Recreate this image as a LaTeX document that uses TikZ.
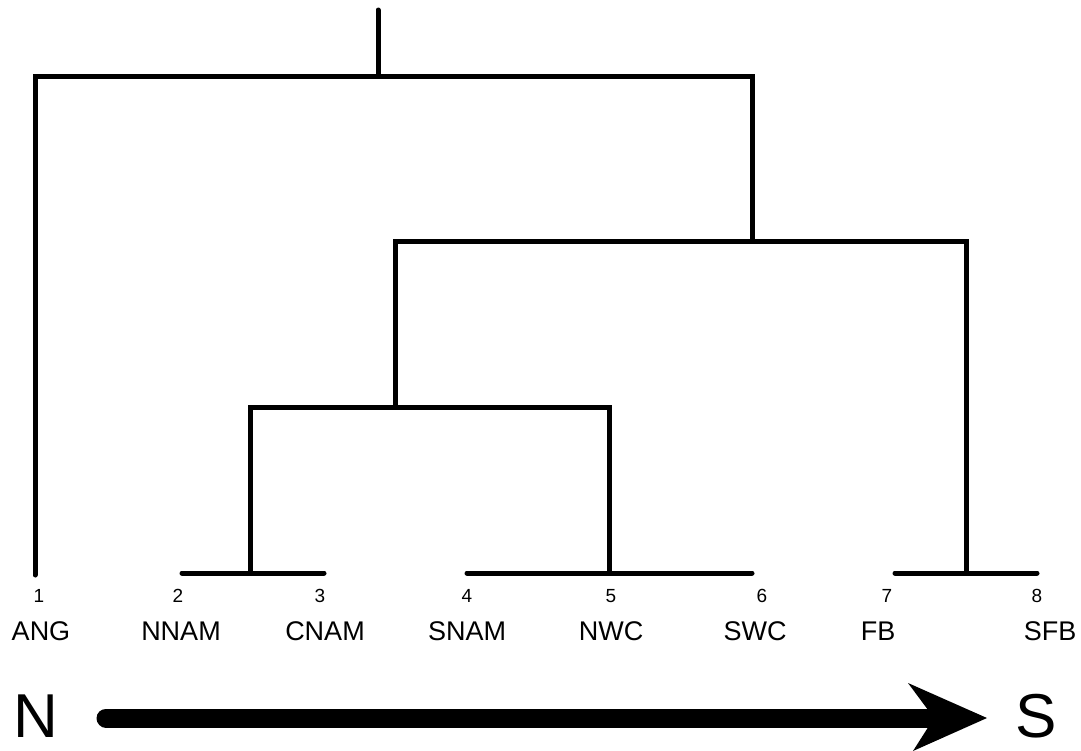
\documentclass[tikz,border=0pt]{standalone}
\usepackage{fontspec}
\setmainfont{Liberation Sans}
\begin{document}
\begin{tikzpicture}[x=1pt,y=-1pt,
  branch/.style={line width=5pt,line cap=round,line join=miter},
  num/.style={font=\fontsize{19}{19}\selectfont,inner sep=0pt},
  lab/.style={font=\fontsize{27}{27}\selectfont,inner sep=0pt},
  big/.style={font=\fontsize{62}{62}\selectfont,inner sep=0pt}]
\useasboundingbox (0,0) rectangle (1081,750);
% junction coordinates
\coordinate (top) at (378,10);
\coordinate (rA) at (378,76);
\coordinate (rL) at (35,76);
\coordinate (rR) at (752,76);
\coordinate (l1) at (35,575);
\coordinate (bA) at (752,241);
\coordinate (bL) at (395,241);
\coordinate (bR) at (966,241);
\coordinate (cA) at (395,407);
\coordinate (cL) at (250,407);
\coordinate (cR) at (609,407);
\coordinate (d23) at (250,573);
\coordinate (d456) at (609,573);
\coordinate (d78) at (966,573);
\coordinate (e2) at (182,573);
\coordinate (e3) at (324,573);
\coordinate (e4) at (467,573);
\coordinate (e6) at (752,573);
\coordinate (e7) at (895,573);
\coordinate (e8) at (1037,573);
% tree
\draw[branch] (top) -- (rA);
\draw[branch] (l1) -- (rL) -- (rR) -- (bA);
\draw[branch] (cA) -- (bL) -- (bR) -- (d78);
\draw[branch] (d23) -- (cL) -- (cR) -- (d456);
\draw[branch] (e2) -- (e3);
\draw[branch] (e4) -- (e6);
\draw[branch] (e7) -- (e8);
% numbers
\node[num] (n1) at (39,596) {1};
\node[num] (n2) at (178,596) {2};
\node[num] (n3) at (320,596) {3};
\node[num] (n4) at (467,596) {4};
\node[num] (n5) at (611,596) {5};
\node[num] (n6) at (762,596) {6};
\node[num] (n7) at (887,596) {7};
\node[num] (n8) at (1037,596) {8};
% labels
\node[lab] (a1) at (41,631) {ANG};
\node[lab] (a2) at (181,631) {NNAM};
\node[lab] (a3) at (325,631) {CNAM};
\node[lab] (a4) at (467,631) {SNAM};
\node[lab] (a5) at (611,631) {NWC};
\node[lab] (a6) at (755,631) {SWC};
\node[lab] (a7) at (878,631) {FB};
\node[lab] (a8) at (1050,631) {SFB};
% direction
\node[big] (N) at (36,716) {N};
\node[big] (S) at (1036,716) {S};
\coordinate (arrS) at (106,718);
\coordinate (arrE) at (930,718);
\draw[line width=19pt,line cap=round] (arrS) -- (arrE);
\fill (987,718) -- (908,683) -- (934,718) -- (913,751) -- cycle;
\end{tikzpicture}
\end{document}
